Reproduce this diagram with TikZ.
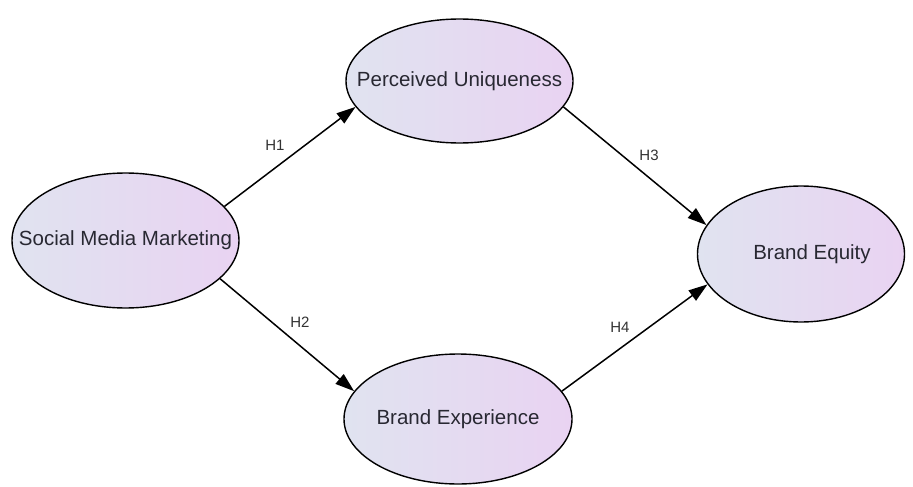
\documentclass[tikz,border=0pt]{standalone}
\usepackage{fontspec}
\setmainfont{Liberation Sans}
\usetikzlibrary{shapes.geometric,arrows.meta}
\definecolor{leftfill}{RGB}{224,227,240}
\definecolor{rightfill}{RGB}{233,211,242}
\definecolor{txt}{RGB}{40,40,50}
\definecolor{lbl}{RGB}{50,50,50}
\tikzset{
  construct/.style={ellipse, draw=black, line width=1.4pt, inner sep=0pt,
    left color=leftfill, right color=rightfill},
  ctext/.style={text=txt, font=\fontsize{20.5}{24}\selectfont, inner sep=0pt},
  path/.style={line width=1.5pt, -{Triangle[length=19pt,width=12.5pt]}},
  hlabel/.style={text=lbl, font=\fontsize{15}{17}\selectfont, inner sep=0pt}
}
\begin{document}
\begin{tikzpicture}[x=1pt,y=-1pt]
\useasboundingbox (0,0) rectangle (913,487);
\node[construct, minimum width=227pt, minimum height=135pt, label={[ctext]center:Social Media Marketing}] (smm) at (125.5,240.5) {};
\node[construct, minimum width=227pt, minimum height=124pt, label={[ctext]center:Perceived Uniqueness}] (pu) at (459.5,81) {};
\node[construct, minimum width=228pt, minimum height=130pt, label={[ctext]center:Brand Experience}] (bx) at (458,419) {};
\node[construct, minimum width=207pt, minimum height=136pt, label={[ctext, xshift=11pt]center:Brand Equity}] (be) at (801,254) {};
\draw[path] (smm.19) -- (pu.194);
\draw[path] (smm.-22) -- (bx.165);
\draw[path] (pu.-14) -- (be.163);
\draw[path] (bx.15) -- (be.198);
\node[hlabel] (h1) at (275,145) {H1};
\node[hlabel] (h2) at (300,322) {H2};
\node[hlabel] (h3) at (649,155) {H3};
\node[hlabel] (h4) at (620,327) {H4};
\end{tikzpicture}
\end{document}
